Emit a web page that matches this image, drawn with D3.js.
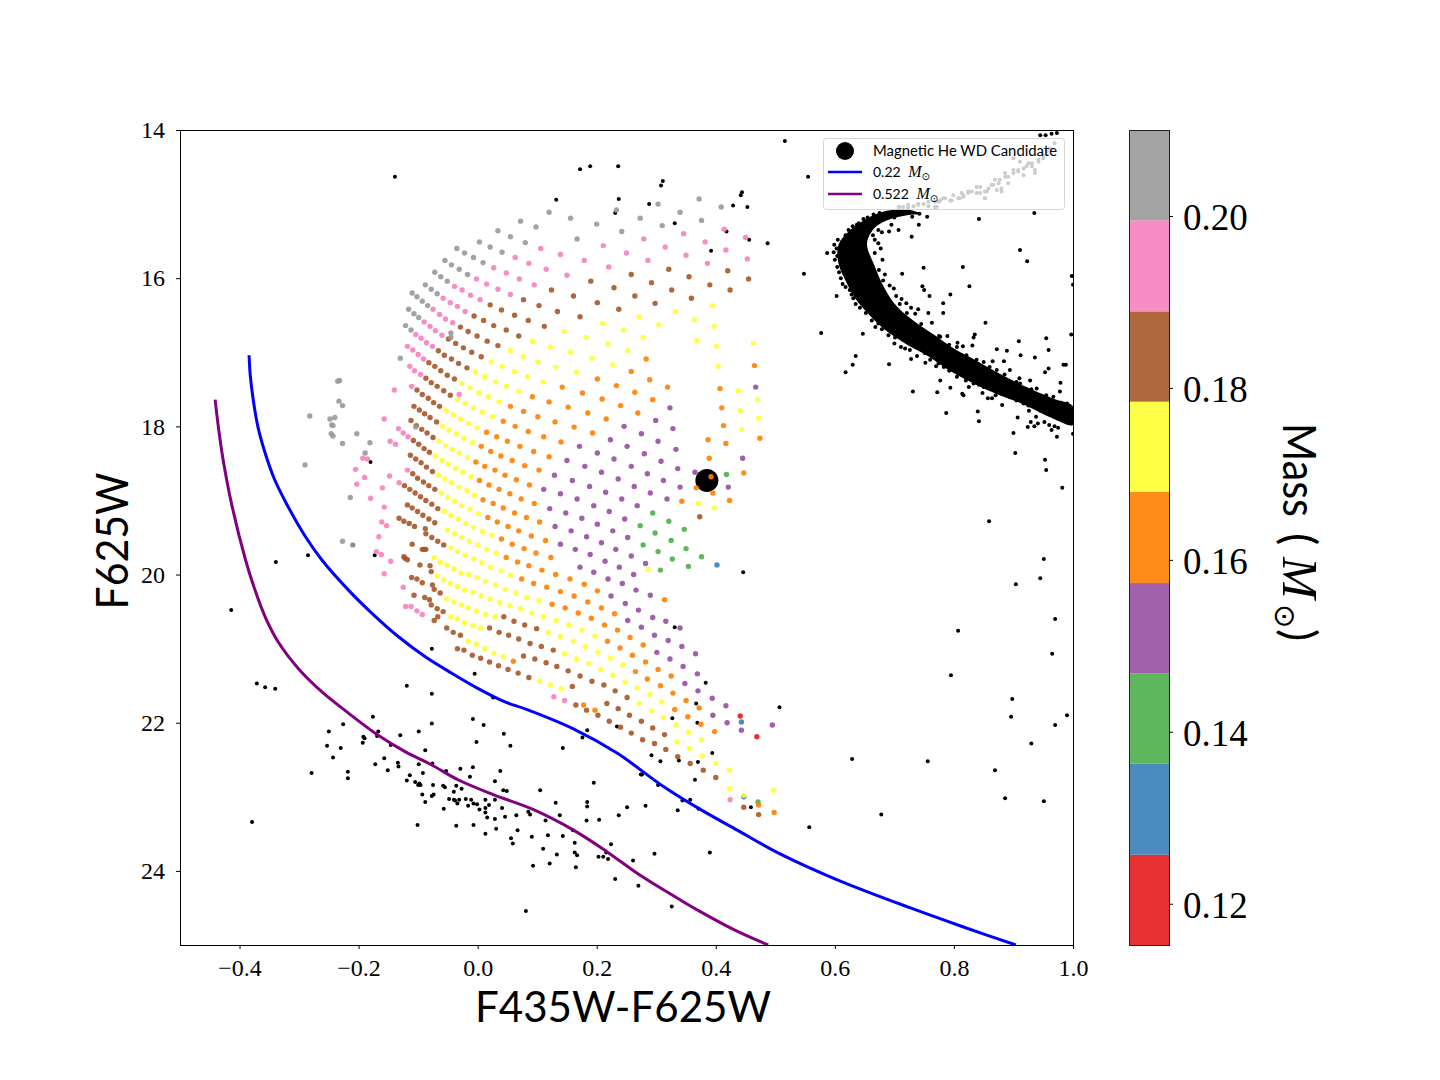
<!DOCTYPE html>
<html>
<head>
<meta charset="utf-8">
<script src="https://cdn.jsdelivr.net/npm/d3@7"></script>
<style>
  html, body { margin: 0; background: #fff; }
  .serif text { font-family: "Liberation Serif", serif; fill: #000; }
  .domain { stroke: #000; }
</style>
</head>
<body>
<svg id="fig" width="1440" height="1080"></svg>
<script>
// axis ranges and ticks
var xRange = [-0.5, 1.0];
var yRange = [14, 25];
var xTicks = [-0.4, -0.2, 0, 0.2, 0.4, 0.6, 0.8, 1.0];
var yTicks = [14, 16, 18, 20, 22, 24];
var massBins = [0.1152, 0.1257, 0.1363, 0.1468, 0.1573, 0.1679, 0.1784, 0.1889, 0.1995, 0.21];
var massTicks = [0.12, 0.14, 0.16, 0.18, 0.20];

// the WD candidate
var candidate = [[0.385, 18.73]];

// model tracks
var track022 = [[-.384,17.04],[-.382,17.31],[-.377,17.64],[-.369,18.01],[-.357,18.36],[-.342,18.70],[-.322,19.03],[-.290,19.48],[-.262,19.80],[-.217,20.21],[-.178,20.52],[-.133,20.84],[-.088,21.11],[-.044,21.33],[.001,21.54],[.046,21.72],[.082,21.82],[.160,22.08],[.234,22.41],[.312,22.86],[.374,23.17],[.436,23.45],[.508,23.77],[.601,24.11],[.727,24.50],[.810,24.74],[.904,25.00]];
var track0522 = [[-.441,17.64],[-.436,17.98],[-.428,18.43],[-.413,19.06],[-.390,19.80],[-.374,20.21],[-.357,20.57],[-.335,20.91],[-.301,21.27],[-.262,21.58],[-.217,21.87],[-.167,22.17],[-.122,22.39],[-.077,22.57],[-.033,22.77],[.026,22.97],[.093,23.17],[.161,23.45],[.217,23.74],[.273,24.06],[.340,24.39],[.374,24.55],[.432,24.80],[.488,25.00]];

// outline of the dense main sequence ridge
var ridgeOutline = [[.687,15.09],[.648,15.22],[.623,15.37],[.606,15.55],[.606,15.80],[.619,16.05],[.634,16.27],[.656,16.48],[.683,16.69],[.718,16.88],[.756,17.05],[.795,17.26],[.835,17.43],[.877,17.58],[.919,17.71],[.965,17.89],[1.0,17.98],[1.0,17.73],[.965,17.62],[.919,17.46],[.877,17.29],[.835,17.10],[.802,16.96],[.768,16.77],[.735,16.59],[.704,16.38],[.683,16.13],[.666,15.82],[.654,15.53],[.667,15.32],[.687,15.22],[.721,15.15],[.743,15.13],[.726,15.08]];

// loose points hugging the ridge
var ridgeFringe = [[.648,15.20],[.637,15.28],[.623,15.35],[.612,15.51],[.599,15.55],[.598,15.65],[.600,15.75],[.604,15.85],[.613,16.08],[.625,16.16],[.631,16.27],[.635,16.35],[.662,16.57],[.673,16.61],[.679,16.69],[.701,16.80],[.711,16.93],[.726,16.97],[.751,17.01],[.774,17.15],[.783,17.20],[.810,17.28],[.833,17.42],[.850,17.47],[.872,17.53],[.894,17.60],[.917,17.69],[.945,17.79],[.978,17.87],[.679,15.38],[.691,15.37],[.707,15.35],[.741,15.28],[.742,15.13],[.667,15.48],[.673,15.53],[.667,15.66],[.674,15.89],[.681,16.03],[.699,16.14],[.703,16.24],[.709,16.35],[.721,16.47],[.763,16.60],[.777,16.79],[.805,16.93],[.821,17.04],[.850,17.13],[.872,17.24],[.894,17.24],[.911,17.42],[.939,17.49],[.967,17.60],[.990,17.69],
[.665,15.14],[.675,15.12],[.655,15.18],[.640,15.26],[.630,15.30],[.618,15.42],[.605,15.48],[.603,15.60],[.604,15.70],[.607,15.92],[.610,16.00],[.618,16.12],[.628,16.22],[.642,16.40],[.652,16.47],[.668,16.66],[.690,16.77],[.700,16.88],[.718,16.95],[.738,17.05],[.760,17.10],[.770,17.19],[.792,17.25],[.805,17.33],[.820,17.38],[.842,17.44],[.862,17.48],[.880,17.56],[.905,17.65],[.925,17.72],[.955,17.82],[.985,17.90],
[.700,15.18],[.730,15.17],[.755,15.17],[.695,15.28],[.673,15.35],[.664,15.42],[.677,15.60],[.680,15.75],[.684,15.95],[.692,16.10],[.712,16.28],[.728,16.40],[.745,16.62],[.775,16.78],[.792,16.90],[.815,16.92],[.838,17.10],[.860,17.20],[.885,17.30],[.905,17.40],[.930,17.50],[.955,17.58],[.980,17.68]];

// red giant branch, goes under the legend
var giants = [[.707,15.04],[.715,15.04],[.723,15.05],[.732,15.03],[.740,15.01],[.749,15.00],[.757,14.97],[.768,14.97],[.768,15.04],[.777,14.95],[.785,14.92],[.794,14.95],[.799,14.88],[.810,14.92],[.816,14.88],[.824,14.85],[.830,14.83],[.838,14.85],[.844,14.77],[.852,14.83],[.852,14.92],[.858,14.79],[.866,14.74],[.872,14.81],[.880,14.83],[.877,14.67],[.886,14.63],[.891,14.72],[.900,14.58],[.908,14.54],[.917,14.61],[.922,14.49],[.931,14.45],[.936,14.54],[.942,14.43],[.950,14.38],[.900,14.38],[.911,14.43],[.945,14.07],[.954,14.07],[.964,14.05],[.973,14.04],
[.709,15.04],[.723,15.01],[.740,15.00],[.757,15.03],[.774,14.97],[.771,15.04],[.782,14.92],[.796,14.95],[.807,14.92],[.816,14.90],[.813,14.85],[.824,14.83],[.838,14.77],[.844,14.85],[.852,14.92],[.855,14.83],[.863,14.74],[.869,14.67],[.875,14.72],[.880,14.79],[.886,14.58],[.891,14.63],[.900,14.54],[.908,14.56],[.917,14.52],[.925,14.45],[.931,14.49],[.936,14.58],[.942,14.40],[.950,14.34],[.956,14.29],[.961,14.25],[.969,14.18]];

// field stars
var fieldStars = [[-.119,21.50],[-.077,21.61],[-.005,21.34],[.026,21.66],[-.250,22.12],[-.226,22.02],[-.176,21.92],[-.192,22.19],[-.190,22.21],[-.167,22.12],[-.169,22.18],[-.253,22.31],[-.230,22.34],[-.193,22.27],[-.243,22.47],[-.279,22.68],[-.218,22.66],[-.218,22.75],[-.146,22.30],[-.130,22.17],[-.099,22.12],[-.077,22.01],[-.008,21.95],[.010,22.03],[.044,22.15],[-.002,22.26],[.055,22.31],[-.088,22.37],[.143,22.34],[.176,22.20],[.184,22.10],[.234,22.05],[.327,21.94],[.292,22.44],[.307,22.52],[.338,22.51],[-.157,22.48],[-.172,22.56],[-.151,22.64],[-.134,22.54],[-.133,22.59],[-.099,22.56],[-.076,22.55],[-.092,22.68],[-.053,22.65],[-.029,22.62],[-.008,22.60],[-.013,22.73],[.038,22.65],[.029,22.79],[-.119,22.78],[-.114,22.71],[-.105,22.80],[-.100,22.84],[-.098,22.82],[-.096,22.84],[-.075,22.84],[-.058,22.85],[-.055,22.87],[-.036,22.85],[-.027,22.89],[-.040,22.93],[-.093,22.97],[-.077,22.99],[-.074,22.97],[-.088,23.07],[-.048,23.03],[-.040,23.04],[-.038,23.05],[-.031,23.04],[-.034,23.09],[-.020,23.03],[-.011,23.04],[-.007,23.09],[-.001,23.10],[-.016,23.12],[.013,23.04],[.029,23.04],[.019,23.11],[.013,23.15],[.003,23.17],[.041,23.15],[.013,23.21],[-.057,23.16],[.043,22.91],[.049,22.92],[.105,22.91],[.131,23.08],[.184,23.07],[.184,23.13],[.195,22.81],[.251,23.14],[.282,23.12],[.336,23.18],[.237,23.25],[.085,23.20],[.088,23.24],[.065,23.25],[.046,23.27],[.029,23.30],[.016,23.28],[.138,23.25],[.114,23.32],[.183,23.32],[.204,23.31],[-.101,23.38],[-.036,23.39],[-.007,23.38],[.013,23.50],[.031,23.43],[.067,23.45],[.091,23.54],[.118,23.52],[.143,23.53],[.160,23.45],[.056,23.56],[.059,23.63],[.110,23.70],[.163,23.62],[.224,23.64],[.133,23.78],[.163,23.75],[.167,23.79],[.203,23.81],[.211,23.81],[.219,23.84],[.216,23.75],[.297,23.77],[.261,23.86],[.093,23.93],[.121,23.90],[.165,23.95],[.231,24.11],[.270,24.20],[.326,24.48],[.081,24.54],
[-.077,21.00],[.331,20.71],[.383,21.46],[.367,21.74],[.369,22.00],[.507,21.79],[.370,22.53],[.394,22.41],[.365,22.77],[.303,22.84],[.274,22.70],[.276,22.70],[.344,23.05],[.357,23.04],[.371,23.16],[.459,23.14],[.446,19.97],
[.132,14.94],[.237,14.93],[.231,15.12],[.288,15.00],[.331,15.26],[.311,14.69],[.308,14.75],[.444,14.84],[.442,14.88],[.429,15.02],[.453,15.04],[.418,15.37],[.456,15.48],[.487,15.53],[.392,15.63],[-.139,14.63],[.172,14.53],[.189,14.49],[.236,14.49],[.516,14.15],[.555,14.63],
[-.414,20.48],[-.339,19.83],[-.285,19.74],[-.180,18.48],[-.209,19.60],[-.173,19.74],[-.371,21.47],[-.357,21.52],[-.340,21.54],[-.379,23.34],
[.842,15.20],[.935,15.12],[.911,15.62],[.923,15.77],[.815,15.85],[.749,15.86],[.713,15.94],[.729,15.44],[.998,15.97],[.548,15.94],[1.0,16.09],[.826,16.11],[.794,16.22],[.759,16.24],[.747,16.11],[.750,16.16],[.782,16.34],[.782,16.47],[.757,16.47],[.740,16.42],[.735,16.48],[.720,16.34],[.853,16.60],[.997,16.76],[.577,16.74],[.647,16.75],[.603,16.24],[.587,15.66],[.635,17.05],[.630,17.17],[.618,17.27],[.691,17.16],[.728,17.09],[.752,17.14],[.955,16.81],[.909,16.85],[.959,16.97],[.912,17.04],[.936,17.07],[.872,16.96],[.889,16.98],[.831,16.91],[.806,16.87],[.835,16.76],[.833,16.80],[.789,16.78],[.984,17.17],[.988,17.17],[.959,17.22],[.953,17.27],[.979,17.41],[.978,17.53],[.928,17.38],[.910,17.35],[.884,17.12],[.865,17.12],[.777,17.38],[.731,17.53],[.772,17.54],[.794,17.48],[.814,17.56],[.816,17.58],[.825,17.47],[.848,17.55],[.857,17.62],[.864,17.62],[.870,17.58],[.881,17.71],[.787,17.82],[.840,17.80],[.842,17.93],[.900,18.09],[.907,17.88],[.926,17.79],[.938,17.87],[.929,17.94],[.941,17.96],[.935,18.00],[.924,18.01],[.952,17.94],[.960,17.98],[.969,18.00],[.964,18.05],[.975,18.02],[.973,18.14],[1.0,18.10],
[.903,18.36],[.953,18.45],[.955,18.59],[.982,18.83],[.859,19.28],[.904,20.13],[.951,19.79],[.945,20.05],[.970,20.60],[.965,21.07],[.807,20.76],[.795,21.36],[.898,21.68],[.896,21.92],[.970,22.03],[.990,21.90],[.930,22.28],[.629,22.49],[.756,22.52],[.869,22.64],[.886,23.02],[.951,23.06],[.678,23.24],[.557,23.41],[.390,23.75]];

// grid points by mass bin, lowest first
var massRed = [[.441,21.91],[.469,22.19]];
var massBlue = [[.402,19.87],[.443,21.99],[.447,23.00]];
var massGreen = [[.294,19.17],[.321,19.28],[.347,19.39],[.273,19.34],[.298,19.44],[.325,19.54],[.350,19.65],[.278,19.60],[.303,19.69],[.327,19.79],[.354,19.89],[.376,19.76],[.307,19.94],[.418,18.65],[.471,23.07]];
var massPurple = [[.246,18.00],[.299,17.92],[.328,18.03],[.275,18.10],[.223,18.18],[.303,18.20],[.171,18.27],[.251,18.27],[.333,18.31],[.201,18.36],[.280,18.37],[.229,18.44],[.308,18.47],[.445,18.43],[.180,18.54],[.258,18.54],[.336,18.57],[.208,18.62],[.285,18.64],[.365,18.62],[.236,18.71],[.159,18.73],[.312,18.73],[.188,18.81],[.263,18.81],[.340,18.82],[.421,18.82],[.215,18.89],[.290,18.90],[.167,18.98],[.242,18.98],[.318,18.98],[.195,19.07],[.268,19.07],[.221,19.15],[.175,19.24],[.247,19.25],[.201,19.32],[.227,19.41],[.157,19.41],[.183,19.49],[.252,19.50],[.208,19.57],[.164,19.66],[.232,19.66],[.189,19.73],[.258,19.75],[.214,19.82],[.282,19.85],[.172,19.90],[.238,19.90],[.195,19.97],[.262,20.00],[.219,20.06],[.243,20.12],[.266,20.21],[.290,20.28],[.224,20.29],[.248,20.39],[.270,20.48],[.294,20.58],[.252,20.62],[.275,20.71],[.316,20.63],[.340,20.72],[.150,18.46],[.129,18.66],[.111,18.85],[.139,18.91],[.121,19.11],[.148,19.17],[.130,19.35],[.139,19.59],[.467,17.47],[.323,17.75],[.297,20.82],[.320,20.89],[.343,20.97],[.366,21.07],[.301,21.05],[.323,21.14],[.345,21.24],[.369,21.34],[.348,21.47],[.370,21.57],[.394,21.67],[.417,21.77],[.395,21.90],[.419,22.00],[.443,22.10],[.495,22.03]];
var massOrange = [[.283,17.09],[.258,17.26],[.289,17.37],[.319,17.47],[.201,17.36],[.233,17.45],[.264,17.54],[.294,17.64],[.142,17.47],[.176,17.55],[.209,17.63],[.240,17.72],[.269,17.82],[.092,17.60],[.120,17.67],[.152,17.74],[.185,17.82],[.216,17.90],[.077,17.80],[.101,17.87],[.465,17.18],[.407,17.49],[.410,17.75],[.055,17.73],[.130,17.94],[.043,17.93],[.063,18.00],[.085,18.07],[.111,18.14],[.140,18.21],[.015,18.08],[.032,18.14],[.050,18.20],[.071,18.27],[.094,18.34],[.120,18.41],[.006,18.27],[.022,18.34],[.039,18.40],[.058,18.46],[.079,18.53],[.103,18.59],[-.003,18.48],[.012,18.54],[.029,18.59],[.046,18.66],[.065,18.72],[.087,18.79],[.003,18.73],[.019,18.79],[.036,18.85],[.054,18.91],[.073,18.98],[.095,19.04],[.009,18.99],[.026,19.04],[.043,19.10],[.062,19.17],[.082,19.23],[.104,19.29],[.017,19.23],[.033,19.29],[.051,19.35],[.069,19.41],[.090,19.48],[.114,19.54],[.040,19.52],[.058,19.59],[.078,19.65],[.098,19.71],[.123,19.77],[.048,19.77],[.067,19.83],[.086,19.88],[.108,19.94],[.131,20.00],[.074,20.06],[.094,20.12],[.116,20.17],[.139,20.23],[.162,20.29],[.125,20.40],[.147,20.45],[.169,20.52],[.162,18.01],[.193,18.09],[.413,17.99],[.474,18.16],[.387,18.18],[.417,18.23],[.389,18.43],[.447,18.63],[.392,18.68],[.367,18.83],[.395,18.90],[.423,19.00],[.343,19.01],[.155,20.06],[.179,20.13],[.201,20.22],[.185,20.37],[.208,20.45],[.230,20.53],[.314,20.34],[.191,20.59],[.213,20.68],[.235,20.75],[.256,20.85],[.278,20.95],[.218,20.90],[.239,20.99],[.260,21.09],[.282,21.18],[.303,21.28],[.325,21.37],[.265,21.31],[.285,21.41],[.307,21.50],[.328,21.60],[.350,21.70],[.372,21.80],[.331,21.82],[.353,21.92],[.375,22.02],[.398,22.12],[.060,21.17],[.178,21.76],[.197,21.83],[.472,23.11],[.498,23.21]];
var massYellow = [[.055,16.98],[.077,17.06],[.023,17.13],[.041,17.19],[.062,17.26],[.084,17.33],[-.004,17.27],[.012,17.33],[.030,17.40],[.048,17.46],[.069,17.53],[-.027,17.42],[-.013,17.48],[.002,17.55],[.018,17.60],[.036,17.67],[-.034,17.64],[-.021,17.69],[-.007,17.75],[.008,17.81],[.025,17.87],[-.053,17.79],[-.041,17.84],[-.029,17.90],[.271,16.52],[.332,16.45],[.364,16.56],[.394,16.37],[.397,16.65],[.210,16.61],[.245,16.70],[.304,16.63],[.278,16.80],[.145,16.72],[.182,16.80],[.219,16.89],[.252,16.98],[.092,16.85],[.122,16.93],[.156,17.00],[.192,17.08],[.227,17.17],[.368,16.84],[.401,16.92],[.463,16.88],[.404,17.19],[.101,17.13],[.131,17.20],[.166,17.27],[.110,17.40],[.438,17.52],[.470,17.64],[.441,17.79],[.472,17.89],[-.015,17.96],[-.001,18.02],[-.059,18.00],[-.048,18.05],[-.036,18.10],[-.023,18.16],[-.009,18.22],[-.065,18.20],[-.054,18.26],[-.043,18.31],[-.031,18.36],[-.017,18.42],[-.071,18.40],[-.060,18.46],[-.049,18.51],[-.037,18.57],[-.025,18.62],[-.011,18.68],[-.066,18.66],[-.055,18.71],[-.044,18.76],[-.031,18.82],[-.018,18.87],[-.005,18.93],[-.061,18.90],[-.050,18.96],[-.039,19.01],[-.027,19.07],[-.013,19.12],[.001,19.18],[-.056,19.15],[-.045,19.20],[-.033,19.25],[-.020,19.31],[-.007,19.36],[.008,19.42],[.024,19.47],[-.051,19.40],[-.039,19.45],[-.027,19.50],[-.014,19.55],[.000,19.60],[.015,19.66],[.031,19.71],[-.045,19.64],[-.034,19.69],[-.021,19.74],[-.007,19.79],[.007,19.84],[.022,19.90],[.039,19.95],[.055,20.01],[-.073,19.77],[-.063,19.83],[-.052,19.87],[-.040,19.92],[-.028,19.98],[-.015,20.00],[-.001,20.04],[.013,20.09],[.030,20.14],[.046,20.20],[.064,20.25],[.082,20.31],[.103,20.35],[-.068,20.02],[-.057,20.07],[-.046,20.12],[-.034,20.16],[-.022,20.21],[-.008,20.24],[.006,20.29],[.021,20.33],[.037,20.38],[.054,20.42],[.072,20.46],[.091,20.52],[.110,20.57],[.132,20.62],[.153,20.68],[-.052,20.33],[-.040,20.37],[-.027,20.41],[-.016,20.45],[-.002,20.49],[.013,20.54],[.029,20.57],[-.045,20.57],[-.034,20.60],[-.022,20.65],[-.008,20.69],[.005,20.72],[.119,20.78],[.139,20.84],[.161,20.90],[-.016,20.90],[-.002,20.94],[.012,21.00],[.175,20.75],[.197,20.83],[.181,20.97],[.202,21.05],[.223,21.13],[.244,21.22],[.146,21.07],[.166,21.14],[.187,21.20],[.207,21.28],[.227,21.36],[.248,21.45],[.268,21.53],[.289,21.62],[.309,21.72],[.271,21.74],[.292,21.84],[.312,21.93],[.333,22.03],[.354,22.13],[.376,22.23],[.335,22.26],[.356,22.35],[.377,22.45],[.400,22.55],[.423,22.64],[.423,22.89],[.447,22.98],[.497,22.91],[.027,21.06],[.043,21.11],[.104,21.44],[.122,21.49],[.140,21.54],[.443,18.04],[.371,19.04],[.397,19.10],[.286,19.93]];
var massBrown = [[.077,16.29],[.021,16.36],[.040,16.43],[.062,16.50],[.085,16.57],[-.006,16.51],[.010,16.57],[.027,16.64],[.048,16.70],[.069,16.78],[-.029,16.66],[-.016,16.72],[-.001,16.78],[.016,16.85],[.034,16.91],[-.049,16.82],[-.037,16.88],[-.024,16.94],[-.010,17.00],[.006,17.06],[-.066,16.98],[-.056,17.04],[-.044,17.09],[-.032,17.15],[-.018,17.21],[-.082,17.14],[-.072,17.19],[-.062,17.25],[-.051,17.31],[-.039,17.36],[-.087,17.35],[-.078,17.41],[-.068,17.46],[-.057,17.52],[-.046,17.58],[-.102,17.51],[-.093,17.57],[-.083,17.62],[-.074,17.68],[-.064,17.73],[-.107,17.73],[-.098,17.78],[-.089,17.83],[-.080,17.88],[-.112,17.92],[.124,16.16],[.190,16.04],[.258,15.95],[.321,15.88],[.355,15.98],[.420,15.90],[.455,16.01],[.292,16.06],[.229,16.13],[.161,16.24],[.103,16.37],[.264,16.24],[.326,16.16],[.390,16.09],[.424,16.16],[.359,16.27],[.298,16.34],[.201,16.33],[.237,16.42],[.134,16.45],[.172,16.52],[.112,16.65],[-.069,17.94],[-.103,17.99],[-.094,18.04],[-.085,18.09],[-.075,18.15],[-.108,18.19],[-.099,18.24],[-.090,18.30],[-.081,18.35],[-.113,18.39],[-.104,18.44],[-.095,18.49],[-.086,18.55],[-.076,18.61],[-.109,18.64],[-.101,18.70],[-.091,18.75],[-.082,18.80],[-.072,18.85],[-.123,18.80],[-.114,18.85],[-.105,18.90],[-.096,18.95],[-.087,19.00],[-.077,19.05],[-.067,19.11],[-.118,19.06],[-.110,19.10],[-.101,19.15],[-.092,19.20],[-.082,19.25],[-.072,19.30],[-.132,19.24],[-.124,19.28],[-.115,19.31],[-.106,19.35],[-.088,19.38],[-.087,19.45],[-.077,19.50],[-.067,19.55],[-.057,19.60],[-.110,19.59],[-.093,19.66],[-.090,19.66],[-.087,19.66],[-.124,19.76],[-.122,19.78],[-.118,19.80],[-.097,19.87],[-.080,19.88],[-.078,19.96],[-.111,20.04],[-.102,20.06],[-.093,20.11],[-.076,20.14],[-.073,20.20],[-.063,20.25],[-.107,20.28],[-.089,20.31],[-.081,20.34],[-.078,20.41],[-.068,20.46],[-.058,20.50],[-.067,20.57],[-.073,20.62],[-.052,20.72],[-.041,20.78],[-.029,20.82],[-.034,21.00],[-.023,21.02],[.044,20.57],[.061,20.63],[.079,20.68],[.099,20.73],[.020,20.72],[.036,20.78],[.052,20.82],[.069,20.87],[.088,20.93],[.107,20.97],[-.009,21.09],[.005,21.13],[.020,21.18],[.035,21.23],[.051,21.28],[.068,21.33],[.086,21.39],[.127,21.02],[.077,21.10],[.096,21.14],[.115,21.19],[.133,21.24],[.152,21.30],[.172,21.37],[.192,21.44],[.212,21.49],[.159,21.51],[.231,21.57],[.251,21.66],[.217,21.74],[.236,21.81],[.255,21.90],[.275,21.98],[.294,22.07],[.314,22.16],[.165,21.76],[.183,21.83],[.202,21.90],[.221,21.98],[.240,22.06],[.258,22.14],[.277,22.23],[.297,22.28],[.316,22.36],[.336,22.46],[.357,22.55],[.379,22.64],[.400,22.74],[.447,23.14],[.472,23.24],[.373,19.22]];
var massPink = [[.063,15.72],[.086,15.80],[.027,15.86],[.048,15.93],[.070,16.01],[-.002,16.01],[.015,16.08],[.034,16.15],[.055,16.22],[-.039,16.11],[-.026,16.16],[-.012,16.23],[.004,16.29],[-.058,16.27],[-.046,16.33],[-.034,16.38],[-.021,16.45],[-.075,16.42],[-.064,16.49],[-.054,16.55],[-.042,16.60],[-.090,16.59],[-.080,16.65],[-.071,16.71],[-.060,16.77],[-.104,16.76],[-.095,16.81],[-.086,16.87],[-.076,16.92],[-.118,16.92],[-.109,16.97],[-.100,17.03],[-.091,17.09],[-.114,17.19],[-.106,17.25],[-.096,17.30],[-.111,17.46],[-.031,17.57],[-.140,17.51],[-.157,17.90],[.106,15.60],[.139,15.68],[.179,15.76],[.220,15.85],[.115,15.88],[.150,15.96],[.095,16.09],[.211,15.56],[.250,15.66],[.286,15.76],[.279,15.47],[.315,15.58],[.350,15.69],[.386,15.80],[.346,15.40],[.382,15.51],[.417,15.62],[.453,15.74],[.414,15.34],[.450,15.45],[-.133,18.03],[-.125,18.09],[-.117,18.14],[-.147,18.20],[-.138,18.24],[-.193,18.43],[-.185,18.44],[-.205,18.58],[-.190,18.69],[-.203,18.78],[-.148,18.67],[-.160,18.83],[-.132,18.76],[-.118,18.59],[-.180,18.97],[-.157,19.09],[-.161,19.29],[-.153,19.34],[-.166,19.49],[-.170,19.69],[-.162,19.73],[-.146,19.82],[-.157,19.99],[-.125,20.17],[-.121,20.43],[-.112,20.43],[-.102,20.49],[-.093,20.54],[.128,21.65],[.146,21.70],[.424,23.04]];
var massGray = [[.072,15.23],[.034,15.36],[.055,15.44],[.080,15.52],[.003,15.51],[.021,15.58],[.041,15.65],[-.035,15.60],[-.022,15.66],[-.007,15.72],[.009,15.79],[-.055,15.76],[-.044,15.82],[-.031,15.88],[-.017,15.95],[-.072,15.92],[-.062,15.98],[-.051,16.04],[-.088,16.09],[-.078,16.15],[-.068,16.21],[-.110,16.20],[-.102,16.25],[-.093,16.31],[-.084,16.37],[-.116,16.42],[-.107,16.48],[-.099,16.53],[-.121,16.64],[-.112,16.70],[-.045,16.74],[-.045,16.80],[-.130,17.08],[-.235,17.39],[-.232,17.38],[-.233,17.66],[-.227,17.72],[-.282,17.86],[-.248,17.90],[-.240,17.88],[.120,15.11],[.156,15.19],[.200,15.27],[.242,15.37],[.167,15.47],[.098,15.31],[.233,15.08],[.273,15.19],[.303,15.00],[.310,15.29],[.340,15.11],[.376,15.22],[.372,14.93],[.409,15.04],[-.203,18.10],[-.227,18.23],[-.181,18.22],[-.189,18.36],[-.214,18.96],[-.227,19.55],[-.104,18.01],[-.290,18.52],[-.210,19.60],[-.245,17.98],[-.243,18.13],[-.246,18.10],[-.243,17.99]];

// drawing order follows d3.schemeSet1: red, blue, green, purple, orange, yellow, brown, pink, gray
var massSeries = [massRed, massBlue, massGreen, massPurple, massOrange, massYellow, massBrown, massPink, massGray];

var svg = d3.select("#fig");
var plot = {left: 180, right: 1073, top: 130, bottom: 945};
var bar = {left: 1129, right: 1169};

var x = d3.scaleLinear().domain(xRange).range([plot.left, plot.right]);
var y = d3.scaleLinear().domain(yRange).range([plot.top, plot.bottom]);
var massY = d3.scaleLinear().domain([massBins[0], massBins[massBins.length-1]]).range([plot.bottom, plot.top]);

svg.append("defs").append("clipPath").attr("id","plotClip")
  .append("rect")
  .attr("x",plot.left).attr("y",plot.top)
  .attr("width",plot.right-plot.left).attr("height",plot.bottom-plot.top);

var inner = svg.append("g").attr("clip-path","url(#plotClip)");

function dots(data, r, fill, opacity){
  inner.append("g").selectAll("circle").data(data).enter().append("circle")
    .attr("cx",function(d){return x(d[0]);})
    .attr("cy",function(d){return y(d[1]);})
    .attr("r",r)
    .attr("fill",fill)
    .attr("fill-opacity",opacity);
}

var ridgeLine = d3.line().x(function(d){return x(d[0]);}).y(function(d){return y(d[1]);}).curve(d3.curveCatmullRomClosed);
inner.append("path").attr("d",ridgeLine(ridgeOutline)).attr("fill","#000");
dots(ridgeFringe, 2, "#000", 1);
dots(giants, 2, "#000", 1);
dots(fieldStars, 2, "#000", 1);
dots(candidate, 11.5, "#000", 1);

massSeries.forEach(function(series,i){
  dots(series, 2.7, d3.schemeSet1[i], 0.9);
});

// tracks
var trackLine = d3.line().x(function(d){return x(d[0]);}).y(function(d){return y(d[1]);}).curve(d3.curveCatmullRom);
inner.append("path").attr("d",trackLine(track022)).attr("fill","none").attr("stroke","#0000ff").attr("stroke-width",3);
inner.append("path").attr("d",trackLine(track0522)).attr("fill","none").attr("stroke","#800080").attr("stroke-width",3);

// axes
var tickText = function(d){ return d3.format(".1f")(d).replace("-","\u2212"); };
var xAxis = svg.append("g").attr("class","serif").attr("transform","translate(0,"+plot.bottom+")")
  .call(d3.axisBottom(x).tickValues(xTicks).tickFormat(tickText).tickSizeInner(4).tickSizeOuter(0).tickPadding(10));
var yAxis = svg.append("g").attr("class","serif").attr("transform","translate("+plot.left+",0)")
  .call(d3.axisLeft(y).tickValues(yTicks).tickFormat(d3.format("d")).tickSizeInner(4).tickSizeOuter(0).tickPadding(11));
xAxis.selectAll("text").style("font-size","24px");
yAxis.selectAll("text").style("font-size","24px");

// box round the plot
svg.append("rect")
  .attr("x",plot.left+0.5).attr("y",plot.top+0.5)
  .attr("width",plot.right-plot.left).attr("height",plot.bottom-plot.top)
  .attr("fill","none").attr("stroke","#000").attr("stroke-width",1);

var sans = "Lato, 'Open Sans', sans-serif";
svg.append("text").text("F435W-F625W")
  .attr("x",623).attr("y",1022).attr("text-anchor","middle")
  .attr("textLength",296).attr("lengthAdjust","spacingAndGlyphs")
  .style("font-family",sans).style("font-size","42px");
svg.append("text").text("F625W")
  .attr("transform","translate(128,541) rotate(-90)").attr("text-anchor","middle")
  .attr("textLength",137).attr("lengthAdjust","spacingAndGlyphs")
  .style("font-family",sans).style("font-size","45px");

// legend, its frame sits on top of the dots so they fade behind it
var legend = svg.append("g");
legend.append("rect")
  .attr("x",823.5).attr("y",138.5).attr("width",241).attr("height",71).attr("rx",3)
  .attr("fill","#fff").attr("fill-opacity",0.8)
  .attr("stroke","#ccc").attr("stroke-opacity",0.8);
legend.append("circle").attr("cx",845).attr("cy",151).attr("r",9).attr("fill","#000");
legend.append("text").text("Magnetic He WD Candidate")
  .attr("x",873).attr("y",155.5)
  .attr("textLength",184).attr("lengthAdjust","spacingAndGlyphs")
  .style("font-family",sans).style("font-size","14.5px");

[["0.22 ","#0000ff",172],["0.522 ","#800080",194]].forEach(function(row){
  legend.append("line")
    .attr("x1",828).attr("x2",862).attr("y1",row[2]).attr("y2",row[2])
    .attr("stroke",row[1]).attr("stroke-width",2.5);
  var t = legend.append("text").attr("x",873).attr("y",row[2]+5)
    .style("font-family",sans).style("font-size","14px");
  t.append("tspan").text(row[0]);
  t.append("tspan").attr("dx",4).attr("font-family","Liberation Serif").attr("font-style","italic").attr("font-size",16).text("M");
  t.append("tspan").attr("font-family","DejaVu Sans").attr("font-size",10).attr("dy",3).text("\u2299");
});

// colour bar
svg.append("g").selectAll("rect").data(d3.range(massBins.length-1)).enter().append("rect")
  .attr("x",bar.left)
  .attr("width",bar.right-bar.left)
  .attr("y",function(i){return massY(massBins[i+1]);})
  .attr("height",function(i){return massY(massBins[i])-massY(massBins[i+1]);})
  .attr("fill",function(i){return d3.schemeSet1[i];})
  .attr("fill-opacity",0.9);
svg.append("rect")
  .attr("x",bar.left+0.5).attr("y",plot.top+0.5)
  .attr("width",bar.right-bar.left).attr("height",plot.bottom-plot.top)
  .attr("fill","none").attr("stroke","#222").attr("stroke-width",1);
var massAxis = svg.append("g").attr("class","serif").attr("transform","translate("+bar.right+",0)")
  .call(d3.axisRight(massY).tickValues(massTicks).tickFormat(d3.format(".2f")).tickSizeInner(4).tickSizeOuter(0).tickPadding(10));
massAxis.select(".domain").remove();
massAxis.selectAll("text").attr("dy","0.37em").style("font-size","37px");

// colour bar title is set in pieces, each rotated onto the same baseline
function sideText(txt, baseX, startY){
  return svg.append("text").text(txt)
    .attr("transform","translate("+baseX+","+startY+") rotate(90)");
}
sideText("Mass",1283,423).attr("textLength",94).attr("lengthAdjust","spacingAndGlyphs").style("font-family",sans).style("font-size","46px");
sideText("(",1283,533).style("font-family",sans).style("font-size","46px");
sideText("M",1283,557).style("font-family","Liberation Serif").style("font-style","italic").style("font-size","50px");
sideText("\u2299",1275,604).style("font-family","DejaVu Sans").style("font-size","29px");
sideText(")",1283,629).style("font-family",sans).style("font-size","46px");
</script>
</body>
</html>
